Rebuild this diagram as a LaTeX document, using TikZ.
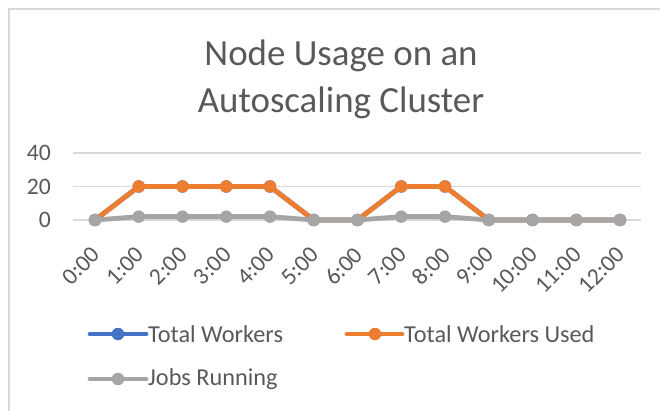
\documentclass[tikz,border=0pt]{standalone}
\usepackage{fontspec}
\setmainfont{Carlito}
\usepackage{tikz}

\definecolor{txtgray}{HTML}{595959}
\definecolor{gridgray}{HTML}{D9D9D9}
\definecolor{totalblue}{HTML}{4472C4}
\definecolor{usedorange}{HTML}{ED7D31}
\definecolor{jobsgray}{HTML}{A5A5A5}

\begin{document}
\begin{tikzpicture}[x=1pt,y=-1pt,
    lbl/.style={text=txtgray,inner sep=0pt,font=\fontsize{23.6}{28}\selectfont},
    series/.style={line width=4.8pt,line join=round,line cap=round},
    dot/.style={circle,fill,inner sep=0pt,minimum size=12.5pt}]
  \useasboundingbox (0,0) rectangle (660,411);

  % chart frame
  \coordinate (fbl) at (9,411);
  \coordinate (ftl) at (9,9);
  \coordinate (ftr) at (660,9);
  \draw[gridgray,line width=1.5pt] (fbl) -- (ftl) -- (ftr);

  % title
  \node[text=txtgray,align=center,font=\fontsize{36.9}{47}\selectfont] (title) at (341,79)
    {Node Usage on an\\Autoscaling Cluster};

  % gridlines and value labels
  \foreach \v in {0,20,40} {
    \coordinate (gl\v) at (73,{220-1.675*\v});
    \coordinate (gr\v) at (641,{220-1.675*\v});
    \draw[gridgray,line width=1.2pt] (gl\v) -- (gr\v);
    \node[lbl,anchor=east] (yl\v) at (51,{220-1.675*\v}) {\v};
  }

  % time labels
  \foreach \i in {0,...,12}
    \node[lbl,anchor=east,rotate=45] (xl\i) at ({96+43.75*\i},251) {\i:00};

  % data points
  \foreach \v [count=\i from 0] in {0,20,20,20,20,0,0,20,20,0,0,0,0} {
    \coordinate (tot\i) at ({95+43.75*\i},{220-1.675*\v});
    \coordinate (used\i) at ({95+43.75*\i},{220-1.675*\v});
  }
  \foreach \v [count=\i from 0] in {0,2,2,2,2,0,0,2,2,0,0,0,0}
    \coordinate (jobs\i) at ({95+43.75*\i},{220-1.675*\v});

  % series
  \draw[series,totalblue] (tot0) \foreach \i in {1,...,12} {-- (tot\i)};
  \foreach \i in {0,...,12} \node[dot,totalblue] at (tot\i) {};
  \draw[series,usedorange] (used0) \foreach \i in {1,...,12} {-- (used\i)};
  \foreach \i in {0,...,12} \node[dot,usedorange] at (used\i) {};
  \draw[series,jobsgray] (jobs0) \foreach \i in {1,...,12} {-- (jobs\i)};
  \foreach \i in {0,...,12} \node[dot,jobsgray] at (jobs\i) {};

  % legend
  \coordinate (la1) at (90,334);  \coordinate (lb1) at (146,334);
  \coordinate (la2) at (347,334); \coordinate (lb2) at (402,334);
  \coordinate (la3) at (90,379);  \coordinate (lb3) at (146,379);
  \draw[series,totalblue] (la1) -- (lb1);
  \node[dot,totalblue] (lm1) at (118,334) {};
  \node[lbl,anchor=west,font=\fontsize{24.3}{28}\selectfont] (lt1) at (148,334) {Total Workers};
  \draw[series,usedorange] (la2) -- (lb2);
  \node[dot,usedorange] (lm2) at (375,334) {};
  \node[lbl,anchor=west,font=\fontsize{24.3}{28}\selectfont] (lt2) at (404,334) {Total Workers Used};
  \draw[series,jobsgray] (la3) -- (lb3);
  \node[dot,jobsgray] (lm3) at (118,379) {};
  \node[lbl,anchor=west,font=\fontsize{24.3}{28}\selectfont] (lt3) at (148,379) {Jobs Running};
\end{tikzpicture}
\end{document}
